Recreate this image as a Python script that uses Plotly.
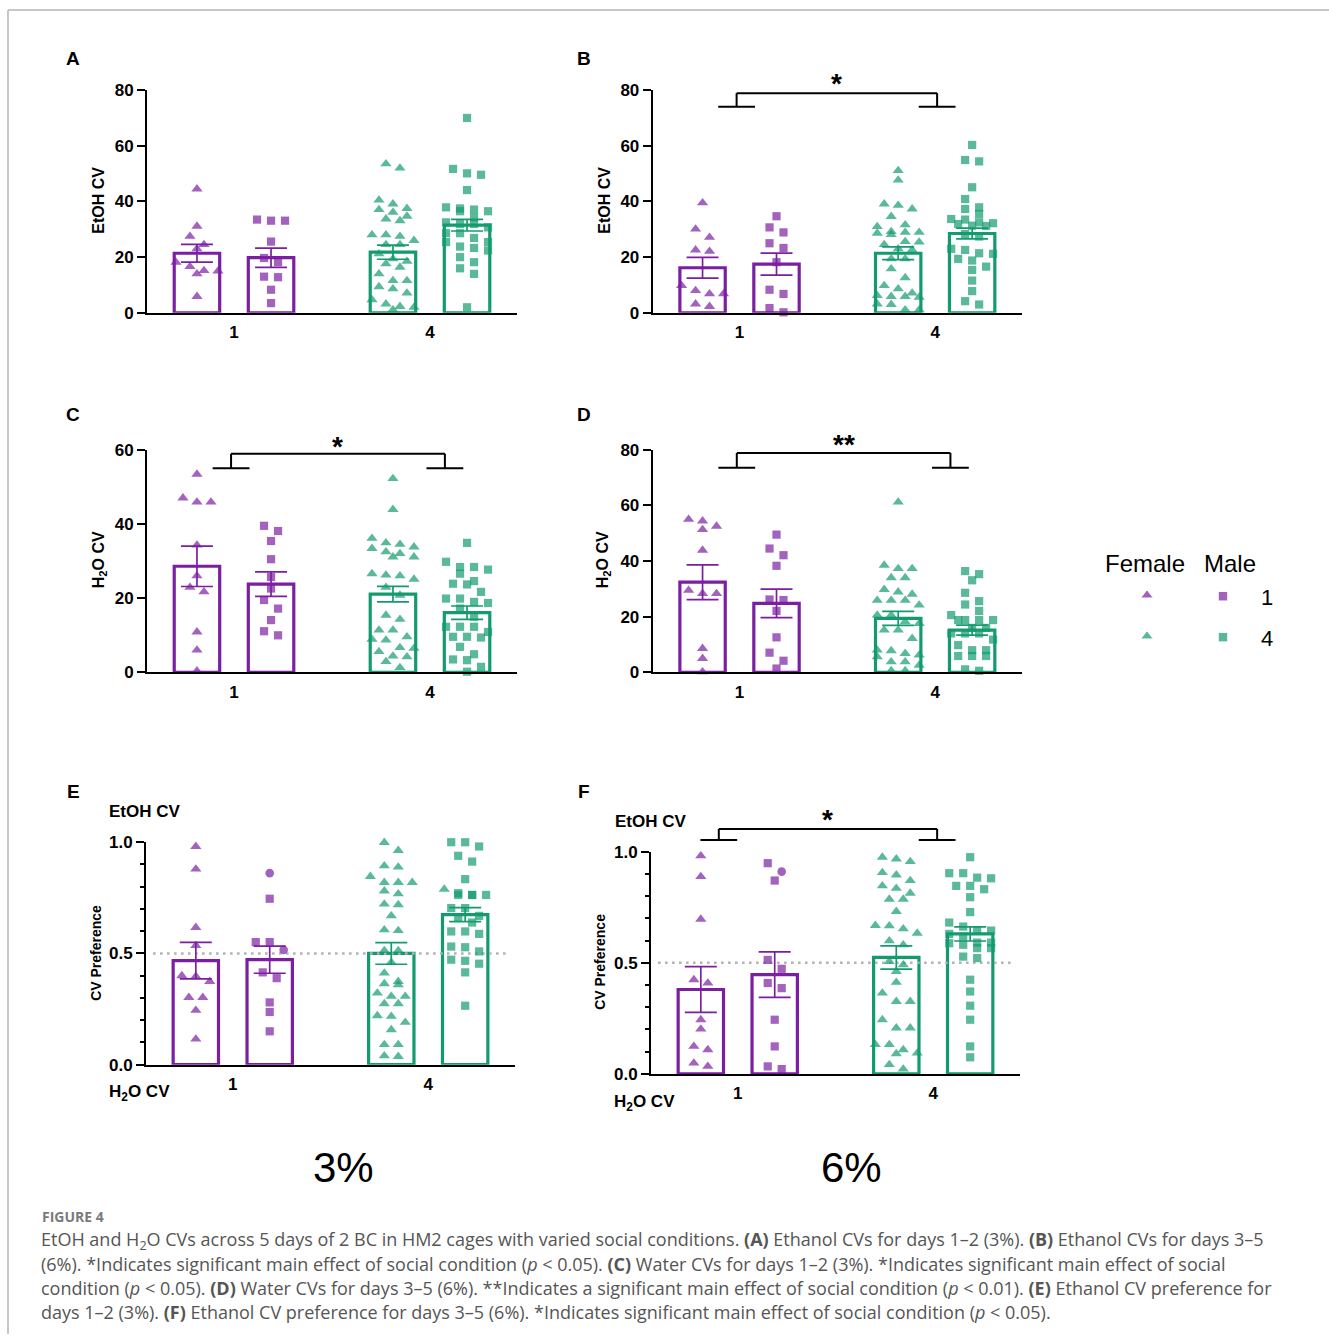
import plotly.graph_objects as go

W, H = 1329, 1344
PURPLE = "#7b1fa2"
GREEN = "#139b6c"
FONT = "Liberation Sans, Arial, sans-serif"
CAPFONT = "Open Sans, Noto Sans, sans-serif"

conditions = ["1", "4"]          # social condition (x tick labels)
sexes = ["Female", "Male"]

# ---------------- Panel A: EtOH CV, days 1-2 (3%) ----------------
A_f1 = [44.5, 31.1, 27.5, 24.5, 23.0, 18.2, 16.6, 15.2, 15.0, 14.0, 5.9]
A_m1 = [33.1, 33.1, 33.5, 25.6, 19.7, 18.2, 12.8, 13.0, 8.3, 3.5]
A_f4 = [53.5, 52.0, 40.5, 39.1, 37.5, 37.1, 36.1, 33.7, 34.7, 33.1, 27.5, 28.0, 28.0, 26.0, 24.5, 24.5,
        21.2, 19.4, 18.5, 17.6, 16.4, 14.0, 11.6, 11.6, 9.4, 8.6, 7.1, 4.7, 3.2, 2.0, 1.1, 2.3]
A_m4 = [70.0, 51.7, 49.6, 50.1, 44.1, 37.9, 37.5, 37.1, 36.5, 36.5, 34.3, 32.5, 31.9, 31.9, 30.7, 28.6,
        28.6, 26.9, 25.4, 25.4, 23.8, 23.3, 22.4, 20.0, 18.2, 16.0, 14.0, 2.0]
A_mean = [21.4, 19.8, 21.8, 31.5]
A_sem = [3.2, 3.45, 2.55, 2.1]

# ---------------- Panel B: EtOH CV, days 3-5 (6%) ----------------
B_f1 = [39.5, 30.1, 27.1, 22.1, 22.6, 9.8, 8.0, 6.8, 6.8, 3.2, 2.3]
B_m1 = [34.7, 30.7, 28.9, 25.0, 23.3, 18.2, 8.3, 6.8, 1.7, 0.2]
B_f4 = [51.1, 47.7, 39.1, 38.6, 37.3, 34.6, 31.6, 31.0, 28.9, 28.9, 28.6, 29.2, 28.1, 25.4, 25.6, 24.5,
        22.6, 23.0, 19.4, 19.4, 15.8, 12.6, 9.8, 8.6, 7.1, 5.9, 6.2, 5.6, 5.9, 3.2, 3.0, 1.1, 1.1]
B_m4 = [60.3, 54.9, 54.4, 45.1, 40.9, 37.9, 37.3, 35.5, 33.5, 33.7, 32.5, 32.2, 31.9, 31.3, 31.2, 28.3,
        27.4, 23.0, 22.6, 21.2, 21.4, 19.4, 18.8, 16.6, 15.4, 11.6, 7.8, 4.2, 3.0]
B_mean = [16.2, 17.5, 21.4, 28.5]
B_sem = [3.7, 3.95, 2.3, 1.95]

# ---------------- Panel C: H2O CV, days 1-2 (3%) ----------------
C_f1 = [53.4, 45.9, 47.0, 45.9, 34.3, 26.0, 22.9, 21.7, 10.9, 6.0, 0.4]
C_m1 = [38.1, 39.5, 35.4, 30.5, 25.7, 22.6, 19.5, 17.2, 14.1, 10.0, 11.1]
C_f4 = [52.2, 43.9, 34.9, 33.8, 36.1, 34.5, 32.5, 31.1, 33.4, 32.0, 31.1, 26.6, 26.2, 26.0, 25.1, 22.9,
        20.8, 15.4, 14.3, 11.4, 11.4, 9.6, 8.7, 8.9, 6.7, 6.5, 5.6, 4.2, 4.4, 2.9, 1.3]
C_m4 = [34.9, 28.4, 29.8, 28.4, 27.7, 26.6, 23.9, 24.6, 23.7, 21.7, 19.9, 19.9, 19.0, 18.7, 17.2, 15.0,
        12.3, 12.3, 12.3, 10.9, 9.6, 9.6, 9.4, 6.9, 4.9, 3.3, 3.5, 1.5, 0.2]
C_mean = [28.6, 23.8, 21.1, 16.1]
C_sem = [5.45, 3.3, 2.1, 1.8]

# ---------------- Panel D: H2O CV, days 3-5 (6%) ----------------
D_f1 = [54.4, 55.0, 51.3, 52.5, 43.9, 29.5, 28.3, 28.3, 8.6, 5.0, 0.2]
D_m1 = [49.5, 44.5, 42.1, 38.3, 26.2, 26.0, 22.1, 12.6, 7.1, 4.2, 1.4]
D_f4 = [61.2, 38.5, 37.3, 37.3, 34.0, 34.0, 28.9, 29.8, 28.1, 25.9, 25.9, 25.9, 24.2, 20.6, 20.6, 18.2,
        17.6, 15.2, 15.2, 12.2, 8.0, 7.8, 6.8, 5.6, 6.2, 3.8, 3.8, 2.6, 0.6, 0.6]
D_m4 = [36.4, 35.3, 33.1, 28.6, 25.6, 24.4, 22.1, 20.6, 18.8, 18.8, 18.8, 18.8, 16.0, 16.0, 14.0, 14.0,
        14.0, 11.8, 9.8, 8.0, 8.0, 5.9, 5.9, 5.9, 0.6, 1.1]
D_mean = [32.4, 24.8, 19.4, 15.2]
D_sem = [6.25, 5.1, 2.5, 1.8]

# ---------------- Panel E: CV preference, days 1-2 (3%) ----------------
E_f1 = [0.981, 0.879, 0.617, 0.536, 0.400, 0.397, 0.374, 0.302, 0.302, 0.244, 0.115]
E_m1 = [0.861, 0.746, 0.551, 0.551, 0.516, 0.415, 0.389, 0.280, 0.237, 0.150]
E_f4 = [0.999, 0.963, 0.894, 0.888, 0.846, 0.819, 0.819, 0.819, 0.781, 0.768, 0.722, 0.719, 0.669, 0.606,
        0.603, 0.513, 0.513, 0.460, 0.412, 0.374, 0.364, 0.359, 0.322, 0.307, 0.307, 0.274, 0.274, 0.220,
        0.217, 0.190, 0.157, 0.090, 0.090, 0.037, 0.040]
E_m4 = [1.0, 0.981, 1.0, 0.939, 0.913, 0.834, 0.789, 0.763, 0.763, 0.771, 0.763, 0.763, 0.704, 0.704,
        0.669, 0.663, 0.639, 0.599, 0.599, 0.588, 0.531, 0.528, 0.509, 0.467, 0.472, 0.454, 0.415, 0.265]
E_mean = [0.468, 0.472, 0.500, 0.675]
E_sem = [0.082, 0.061, 0.0485, 0.0315]

# ---------------- Panel F: CV preference, days 3-5 (6%) ----------------
F_f1 = [0.981, 0.888, 0.696, 0.409, 0.424, 0.244, 0.202, 0.109, 0.124, 0.034, 0.049]
F_m1 = [0.948, 0.910, 0.870, 0.513, 0.473, 0.409, 0.386, 0.244, 0.124, 0.022, 0.034]
F_f4 = [0.967, 0.975, 0.955, 0.906, 0.895, 0.870, 0.846, 0.835, 0.813, 0.786, 0.786, 0.731, 0.666, 0.668,
        0.653, 0.633, 0.599, 0.581, 0.506, 0.491, 0.461, 0.412, 0.364, 0.326, 0.326, 0.244, 0.207, 0.207,
        0.132, 0.132, 0.109, 0.094, 0.091, 0.042, 0.022]
F_m4 = [0.975, 0.903, 0.903, 0.883, 0.880, 0.846, 0.846, 0.831, 0.795, 0.728, 0.681, 0.663, 0.645, 0.645,
        0.630, 0.618, 0.591, 0.591, 0.588, 0.581, 0.566, 0.566, 0.521, 0.528, 0.424, 0.371, 0.307, 0.244,
        0.124, 0.075]
F_mean = [0.380, 0.447, 0.524, 0.630]
F_sem = [0.103, 0.1025, 0.0525, 0.032]

# points drawn with a different symbol in the original
odd_symbols = {
    ("E", 1): {0.861: "circle", 0.516: "circle"},
    ("F", 1): {0.910: "circle"},
    ("E", 3): {0.789: "triangle-up"},
}

# significance brackets: (left x, right x, top y, foot y, star y, label) in data units
brackets = {
    "B": (-0.015, 1.010, 78.9, 74.0, 82.2, "*"),
    "C": (-0.015, 1.076, 58.9, 55.0, 60.9, "*"),
    "D": (-0.014, 1.078, 78.8, 73.5, 81.7, "**"),
    "F": (-0.097, 1.020, 1.102, 1.052, 1.145, "*"),
}

# ---------------- layout geometry (target pixels in the photographed page) ----------------
Y_OFF, Y_SCALE = 8.1, 0.987      # measured mapping page-y -> photographed-y


def SY(y):
    """photographed pixel row -> figure pixel row"""
    return (y - Y_OFF) / Y_SCALE


GROUP_PX = 196.0                 # pixel distance between condition groups
XMIN, XMAX = -87 / GROUP_PX, 1 + 87 / GROUP_PX
BAR_OFF = 0.189
BAR_W = 0.232

panels = [
    dict(key="A", ytitle="EtOH CV", ymax=80, dtick=20, box=(147, 517, 89.3, 312.3),
         data=[A_f1, A_m1, A_f4, A_m4], mean=A_mean, sem=A_sem, lab=(73, 58), yt=(99, 200)),
    dict(key="B", ytitle="EtOH CV", ymax=80, dtick=20, box=(652.7, 1022, 89.3, 312.3),
         data=[B_f1, B_m1, B_f4, B_m4], mean=B_mean, sem=B_sem, lab=(584, 58), yt=(605, 200)),
    dict(key="C", ytitle="H<sub>2</sub>O CV", ymax=60, dtick=20, box=(147, 517, 449.3, 672.3),
         data=[C_f1, C_m1, C_f4, C_m4], mean=C_mean, sem=C_sem, lab=(73, 414), yt=(99, 560)),
    dict(key="D", ytitle="H<sub>2</sub>O CV", ymax=80, dtick=20, box=(652.7, 1022, 449.3, 672.3),
         data=[D_f1, D_m1, D_f4, D_m4], mean=D_mean, sem=D_sem, lab=(584, 414), yt=(603, 560)),
    dict(key="E", ytitle="CV Preference", ymax=1.0, dtick=0.5, box=(146, 515, 842.3, 1065),
         data=[E_f1, E_m1, E_f4, E_m4], mean=E_mean, sem=E_sem, lab=(73, 792), yt=(96, 953),
         top=(145, 812), bot=(139, 1093)),
    dict(key="F", ytitle="CV Preference", ymax=1.0, dtick=0.5, box=(651, 1020, 851.7, 1074.3),
         data=[F_f1, F_m1, F_f4, F_m4], mean=F_mean, sem=F_sem, lab=(584, 792), yt=(600, 962),
         top=(651, 822), bot=(644, 1103)),
]


def px2paper(x, y):
    return x / W, 1 - SY(y) / H


def swarm_offsets(vals, px_per_y, spacing=14.0, row_h=9.0, max_per_row=4):
    order = sorted(range(len(vals)), key=lambda i: -vals[i])
    offs = [0.0] * len(vals)
    rows, row = [], []
    for i in order:
        if row and (vals[row[0]] - vals[i]) * px_per_y < row_h and len(row) < max_per_row:
            row.append(i)
        else:
            if row:
                rows.append(row)
            row = [i]
    if row:
        rows.append(row)
    for r in rows:
        n = len(r)
        for k, i in enumerate(r):
            offs[i] = (k - (n - 1) / 2) * spacing
    return offs


fig = go.Figure()
annotations = []
shapes = []
layout_axes = {}

for idx, p in enumerate(panels, start=1):
    xr = "x" if idx == 1 else f"x{idx}"
    yr = "y" if idx == 1 else f"y{idx}"
    x0, x1, yt, yb = p["box"]
    px_per_y = (yb - yt) / p["ymax"]
    xd = [x0 / W, x1 / W]
    yd = [1 - SY(yb) / H, 1 - SY(yt) / H]

    def to_paper(xv, yv, xd=xd, yd=yd, ymax=p["ymax"]):
        return (xd[0] + (xv - XMIN) / (XMAX - XMIN) * (xd[1] - xd[0]),
                yd[0] + yv / ymax * (yd[1] - yd[0]))

    # dotted 0.5 reference line for preference panels
    if p["key"] in ("E", "F"):
        fig.add_trace(go.Scatter(x=[-0.408, 1.403], y=[0.5, 0.5], mode="lines", xaxis=xr, yaxis=yr,
                                 line=dict(color="#b4b4b4", width=2.6, dash="2.6px,4.4px"),
                                 hoverinfo="skip"))

    for g in range(4):
        cond, sex = g // 2, g % 2
        color = PURPLE if cond == 0 else GREEN
        xc = cond + (BAR_OFF if sex == 1 else -BAR_OFF)
        vals = p["data"][g]
        fig.add_trace(go.Bar(x=[xc], y=[p["mean"][g]], width=BAR_W, xaxis=xr, yaxis=yr,
                             marker=dict(color="rgba(255,255,255,0)", line=dict(color=color, width=3.2)),
                             name=f"{sexes[sex]} {conditions[cond]}"))
        offs = swarm_offsets(vals, px_per_y)
        base_sym = "triangle-up" if sex == 0 else "square"
        odd = odd_symbols.get((p["key"], g), {})
        syms = [odd.get(v, base_sym) for v in vals]
        sizes = [9.8 if s == "triangle-up" else (8.2 if s == "square" else 8.6) for s in syms]
        fig.add_trace(go.Scatter(x=[xc + o / GROUP_PX for o in offs], y=vals, mode="markers",
                                 xaxis=xr, yaxis=yr, cliponaxis=False,
                                 marker=dict(symbol=syms, size=sizes, color=color, line=dict(width=0)),
                                 name=f"{sexes[sex]} {conditions[cond]}"))
        fig.add_trace(go.Scatter(x=[xc], y=[p["mean"][g]], mode="markers", xaxis=xr, yaxis=yr,
                                 marker=dict(size=1, color="rgba(0,0,0,0)"),
                                 error_y=dict(type="data", array=[p["sem"][g]], color=color,
                                              thickness=1.7, width=16),
                                 hoverinfo="skip"))

    # significance bracket (paper-referenced so it may sit above the axis range)
    if p["key"] in brackets:
        l, r, top, foot, sy, lab = brackets[p["key"]]
        h = 0.094
        segs = [((l - h, foot), (l + h, foot)), ((l, foot), (l, top)), ((l, top), (r, top)),
                ((r, top), (r, foot)), ((r - h, foot), (r + h, foot))]
        for (ax0, ay0), (ax1, ay1) in segs:
            px0, py0 = to_paper(ax0, ay0)
            px1, py1 = to_paper(ax1, ay1)
            shapes.append(dict(type="line", xref="paper", yref="paper", x0=px0, y0=py0, x1=px1, y1=py1,
                               line=dict(color="black", width=2)))
        sxp, syp = to_paper((l + r) / 2, sy)
        annotations.append(dict(x=sxp, y=syp, xref="paper", yref="paper",
                                text=f"<b>{lab}</b>", showarrow=False,
                                font=dict(family=FONT, size=28, color="black"),
                                xanchor="center", yanchor="middle"))

    # axes
    xname = "xaxis" if idx == 1 else f"xaxis{idx}"
    yname = "yaxis" if idx == 1 else f"yaxis{idx}"
    layout_axes[xname] = dict(domain=xd, range=[XMIN, XMAX], anchor=yr, tickvals=[0, 1],
                              ticktext=[f"<b>{c}</b>" for c in conditions], ticks="outside",
                              ticklen=3, tickcolor="rgba(0,0,0,0)", showline=True, linecolor="black",
                              linewidth=2, showgrid=False, zeroline=False,
                              tickfont=dict(family=FONT, size=17, color="black"), fixedrange=True)
    ya = dict(domain=yd, range=[0, p["ymax"]], anchor=xr, ticks="outside", ticklen=8, tickwidth=2,
              tickcolor="black", showline=True, linecolor="black", linewidth=2, showgrid=False,
              zeroline=False, tickfont=dict(family=FONT, size=17, color="black"), fixedrange=True)
    if p["key"] in ("E", "F"):
        ya.update(tickvals=[0, 0.5, 1.0], ticktext=["<b>0.0</b>", "<b>0.5</b>", "<b>1.0</b>"],
                  minor=dict(dtick=0.1, tick0=0, ticklen=4, tickwidth=2, tickcolor="black",
                             ticks="outside"))
    else:
        tv = [i * p["dtick"] for i in range(int(p["ymax"] / p["dtick"]) + 1)]
        ya.update(tickvals=tv, ticktext=[f"<b>{int(v)}</b>" for v in tv])
    layout_axes[yname] = ya

    # panel letter
    lx, ly = px2paper(*p["lab"])
    annotations.append(dict(x=lx, y=ly, xref="paper", yref="paper", text=f"<b>{p['key']}</b>",
                            showarrow=False, font=dict(family=FONT, size=19, color="black"),
                            xanchor="center", yanchor="middle"))
    # y title
    tx, ty = px2paper(*p["yt"])
    annotations.append(dict(x=tx, y=ty, xref="paper", yref="paper", text=f"<b>{p['ytitle']}</b>",
                            textangle=-90, showarrow=False,
                            font=dict(family=FONT, size=14 if p["key"] in ("E", "F") else 16,
                                      color="black"),
                            xanchor="center", yanchor="middle"))
    if "top" in p:
        for pos, txt in ((p["top"], "<b>EtOH CV</b>"), (p["bot"], "<b>H<sub>2</sub>O CV</b>")):
            ax_, ay_ = px2paper(*pos)
            annotations.append(dict(x=ax_, y=ay_, xref="paper", yref="paper", text=txt,
                                    showarrow=False, font=dict(family=FONT, size=17, color="black"),
                                    xanchor="center", yanchor="middle"))

# ---------------- legend (drawn on a hidden pixel-space axis) ----------------
layout_axes["xaxis7"] = dict(domain=[0, 1], range=[0, W], visible=False, fixedrange=True, anchor="y7")
layout_axes["yaxis7"] = dict(domain=[0, 1], range=[Y_OFF + Y_SCALE * H, Y_OFF], visible=False,
                             fixedrange=True, anchor="x7")
leg_rows = [(PURPLE, 595), (GREEN, 636)]
for (col, ly), cond in zip(leg_rows, conditions):
    fig.add_trace(go.Scatter(x=[1147, 1223], y=[ly, ly + 1], mode="markers", xaxis="x7", yaxis="y7",
                             marker=dict(symbol=["triangle-up", "square"], size=[11, 9.5], color=col),
                             hoverinfo="skip"))
    lx_, ly_ = px2paper(1267, ly + 2)
    annotations.append(dict(x=lx_, y=ly_, xref="paper", yref="paper", text=cond,
                            showarrow=False, font=dict(family=FONT, size=22, color="black"),
                            xanchor="center", yanchor="middle"))
for txt, xpx in (("Female", 1145), ("Male", 1229.5)):
    hx, hy = px2paper(xpx, 563)
    annotations.append(dict(x=hx, y=hy, xref="paper", yref="paper", text=txt,
                            showarrow=False, font=dict(family=FONT, size=24, color="black"),
                            xanchor="center", yanchor="middle"))

# concentration labels
for txt, xpx in (("3%", 343), ("6%", 851)):
    cx, cy = px2paper(xpx, 1168)
    annotations.append(dict(x=cx, y=cy, xref="paper", yref="paper", text=txt,
                            showarrow=False, font=dict(family=FONT, size=42, color="black"),
                            xanchor="center", yanchor="middle"))

# ---------------- caption ----------------
caption_lines = [
    "EtOH and H<sub>2</sub>O CVs across 5 days of 2 BC in HM2 cages with varied social conditions. "
    "<b>(A)</b> Ethanol CVs for days 1–2 (3%). <b>(B)</b> Ethanol CVs for days 3–5",
    "(6%). *Indicates significant main effect of social condition (<i>p</i> < 0.05). "
    "<b>(C)</b> Water CVs for days 1–2 (3%). *Indicates significant main effect of social",
    "condition (<i>p</i> < 0.05). <b>(D)</b> Water CVs for days 3–5 (6%). **Indicates a significant "
    "main effect of social condition (<i>p</i> < 0.01). <b>(E)</b> Ethanol CV preference for",
    "days 1–2 (3%). <b>(F)</b> Ethanol CV preference for days 3–5 (6%). *Indicates significant main "
    "effect of social condition (<i>p</i> < 0.05).",
]
fx, fy = px2paper(40, 1217)
annotations.append(dict(x=fx, y=fy, xref="paper", yref="paper", text="<b>FIGURE 4</b>",
                        showarrow=False, font=dict(family=CAPFONT, size=14, color="#7a7a7a"),
                        xanchor="left", yanchor="middle"))
for k, line in enumerate(caption_lines):
    cx, cy = px2paper(39, 1241 + 24 * k)
    annotations.append(dict(x=cx, y=cy, xref="paper", yref="paper",
                            text=line, showarrow=False,
                            font=dict(family=CAPFONT, size=18, color="#555555"),
                            xanchor="left", yanchor="middle"))

# frame
fx0, fy0 = px2paper(8, 9)
shapes += [
    dict(type="line", xref="paper", yref="paper", x0=fx0, x1=1, y0=fy0, y1=fy0,
         line=dict(color="#b5b5b5", width=1.5)),
    dict(type="line", xref="paper", yref="paper", x0=fx0, x1=fx0, y0=fy0, y1=0,
         line=dict(color="#b5b5b5", width=1.5)),
]

fig.update_layout(width=W, height=H, margin=dict(l=0, r=0, t=0, b=0), showlegend=False,
                  paper_bgcolor="white", plot_bgcolor="rgba(0,0,0,0)", barmode="overlay",
                  annotations=annotations, shapes=shapes, **layout_axes)

fig.write_html(
    "out.html",
    config={"displayModeBar": False, "responsive": False},
    post_script=("document.documentElement.style.margin='0';"
                 "document.documentElement.style.padding='0';"
                 "document.documentElement.style.overflow='hidden';"
                 "document.body.style.margin='0';document.body.style.padding='0';"
                 "document.body.style.overflow='hidden';"
                 "var d=document.getElementById('{plot_id}');"
                 "d.style.position='fixed';d.style.left='0px';d.style.top='0px';"),
)
